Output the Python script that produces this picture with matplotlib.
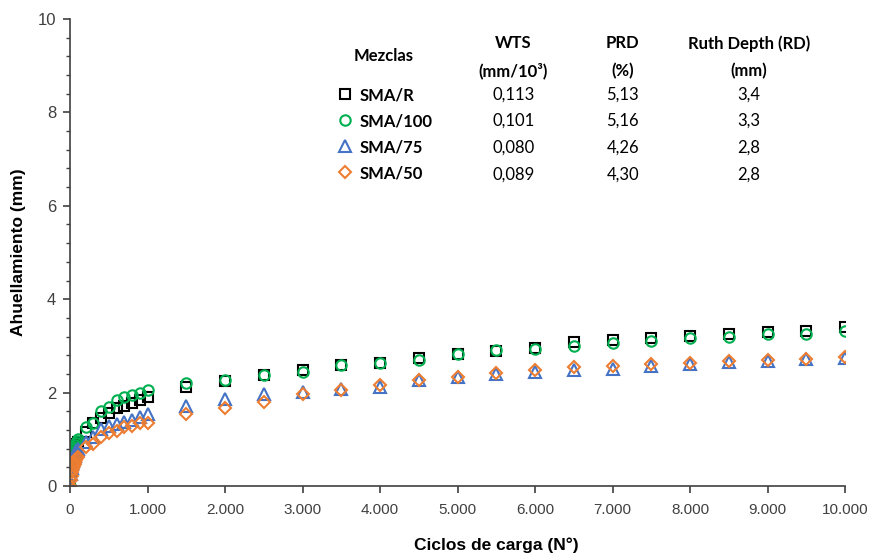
import matplotlib
matplotlib.use("Agg")
import matplotlib.pyplot as plt
from matplotlib.ticker import MultipleLocator, AutoMinorLocator, FuncFormatter

plt.rcParams["font.family"] = ["Liberation Sans", "DejaVu Sans"]

# Load cycles (N)
cycles = [0, 10, 20, 30, 40, 50, 60, 70, 80, 90, 100,
          200, 300, 400, 500, 600, 700, 800, 900, 1000,
          1500, 2000, 2500, 3000, 3500, 4000, 4500, 5000, 5500, 6000, 6500,
          7000, 7500, 8000, 8500, 9000, 9500, 10000]

# Rut depth (mm) per mix
sma_r = [0, 0.30, 0.45, 0.55, 0.63, 0.70, 0.76, 0.81, 0.86, 0.91, 0.95,
         1.16, 1.34, 1.45, 1.57, 1.66, 1.71, 1.77, 1.84, 1.90,
         2.13, 2.25, 2.37, 2.48, 2.59, 2.64, 2.74, 2.83, 2.90, 2.95, 3.08,
         3.12, 3.17, 3.21, 3.26, 3.29, 3.33, 3.40]
sma_100 = [0, 0.35, 0.50, 0.62, 0.70, 0.77, 0.83, 0.88, 0.93, 0.97, 1.00,
           1.26, 1.36, 1.61, 1.70, 1.84, 1.90, 1.95, 2.00, 2.06,
           2.20, 2.28, 2.37, 2.44, 2.59, 2.64, 2.70, 2.83, 2.91, 2.93, 2.99,
           3.06, 3.10, 3.18, 3.20, 3.25, 3.26, 3.33]
sma_75 = [0, 0.25, 0.38, 0.47, 0.54, 0.60, 0.65, 0.70, 0.74, 0.77, 0.80,
          0.95, 1.06, 1.22, 1.28, 1.33, 1.38, 1.42, 1.47, 1.55,
          1.72, 1.87, 1.97, 2.01, 2.08, 2.13, 2.28, 2.34, 2.39, 2.45, 2.48,
          2.50, 2.58, 2.61, 2.65, 2.68, 2.72, 2.74]
sma_50 = [0, 0.12, 0.22, 0.30, 0.37, 0.43, 0.48, 0.52, 0.56, 0.60, 0.63,
          0.84, 0.91, 1.04, 1.13, 1.18, 1.26, 1.28, 1.34, 1.36,
          1.55, 1.66, 1.79, 1.97, 2.06, 2.16, 2.27, 2.34, 2.43, 2.48, 2.54,
          2.56, 2.61, 2.63, 2.67, 2.70, 2.73, 2.77]

mixes = ["SMA/R", "SMA/100", "SMA/75", "SMA/50"]
wts = ["0,113", "0,101", "0,080", "0,089"]
prd = ["5,13", "5,16", "4,26", "4,30"]
rd = ["3,4", "3,3", "2,8", "2,8"]

colors = ["black", "#00B050", "#4472C4", "#ED7D31"]
markers = ["s", "o", "^", "D"]
sizes = [7, 7.5, 8, 6]

fig = plt.figure(figsize=(8.7, 5.54), dpi=100)
ax = fig.add_axes([0.0805, 0.1227, 0.8908, 0.843])

handles = []
for y, c, m, s in zip([sma_r, sma_100, sma_75, sma_50], colors, markers, sizes):
    h, = ax.plot(cycles, y, linestyle="none", marker=m, markersize=s,
                 markerfacecolor="none", markeredgecolor=c, markeredgewidth=1.5)
    handles.append(h)

ax.set_xlim(0, 10000)
ax.set_ylim(0, 10)
ax.xaxis.set_major_locator(MultipleLocator(1000))
ax.yaxis.set_major_locator(MultipleLocator(2))
ax.yaxis.set_minor_locator(AutoMinorLocator(5))
ax.xaxis.set_major_formatter(FuncFormatter(lambda v, p: f"{int(v):,}".replace(",", ".")))

for side in ["top", "right"]:
    ax.spines[side].set_visible(False)
for side in ["left", "bottom"]:
    ax.spines[side].set_color("#404040")
    ax.spines[side].set_linewidth(1.2)
ax.tick_params(which="major", direction="out", length=5, width=1.2, color="#404040",
               labelsize=12, labelcolor="#404040", pad=5)
ax.tick_params(which="minor", direction="out", length=3, width=1, color="#404040")
ax.tick_params(axis="x", labelsize=11, pad=7)

ax.set_xlabel("Ciclos de carga (N°)", fontsize=12.5, fontweight="bold", va="center")
ax.xaxis.set_label_coords(0.55, -0.127)
ax.set_ylabel("Ahuellamiento (mm)", fontsize=12.5, fontweight="bold", va="center")
ax.yaxis.set_label_coords(-0.067, 0.5)

# table-like legend
tfont = dict(family=["Lato", "DejaVu Sans"], fontsize=12, color="black")
leg = ax.legend(handles, mixes, loc="upper left", bbox_to_anchor=(0.335, 0.872),
                frameon=False, handlelength=0.8, handletextpad=0.5,
                labelspacing=0.6, borderpad=0, prop=dict(family="Lato", size=12, weight="bold"))

ax.text(0.404, 0.92, "Mezclas", transform=ax.transAxes, ha="center", va="center",
        fontweight="bold", **tfont)
cols = [(0.572, "WTS", "(mm/10³)", wts), (0.713, "PRD", "(%)", prd),
        (0.876, "Ruth Depth (RD)", "(mm)", rd)]
row_y = [0.839, 0.782, 0.724, 0.667]
for x, h1, h2, vals in cols:
    ax.text(x, 0.948, h1, transform=ax.transAxes, ha="center", va="center",
            fontweight="bold", **tfont)
    ax.text(x, 0.889, h2, transform=ax.transAxes, ha="center", va="center",
            fontweight="bold", **tfont)
    for yy, v in zip(row_y, vals):
        ax.text(x, yy, v, transform=ax.transAxes, ha="center", va="center", **tfont)

fig.savefig("out.png", dpi=100)
